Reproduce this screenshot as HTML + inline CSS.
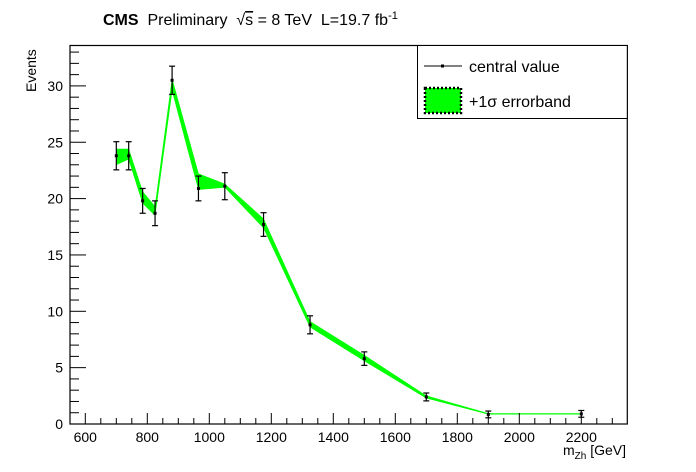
<!DOCTYPE html>
<html><head><meta charset="utf-8"><style>
html,body{margin:0;padding:0;background:#fff;}
svg{display:block;font-family:"Liberation Sans",Arial,sans-serif;}
</style></head><body>
<svg id="chart" width="696" height="472" viewBox="0 0 696 472">
<rect x="0" y="0" width="696" height="472" fill="#fff"/>
<g id="band"></g>
<g id="marks"></g>
<rect x="70" y="45.5" width="557.3" height="378.5" fill="none" stroke="#000" stroke-width="1.2"/>
<g id="axes"></g>
<text x="103" y="25" font-size="16"><tspan font-weight="bold">CMS</tspan>&#160; Preliminary &#160;√<tspan text-decoration="overline">s</tspan> = 8 TeV &#160;L=19.7 fb<tspan font-size="11" dy="-6">-1</tspan></text>
<text x="36" y="92" font-size="14" transform="rotate(-90 36 92)">Events</text>
<text x="626" y="455" font-size="14" text-anchor="end">m<tspan font-size="10" dy="4">Zh</tspan><tspan dy="-4"> [GeV]</tspan></text>
<g>
<rect x="417.5" y="45.5" width="209.8" height="73" fill="#fff" stroke="#000" stroke-width="1"/>
<g>
<line x1="424" y1="66" x2="462" y2="66" stroke="#000" stroke-width="1"/>
<rect x="441" y="64.5" width="3" height="3" fill="#000"/>
<text x="469" y="72" font-size="16">central value</text></g>
<g>
<rect x="425" y="88" width="36" height="25" fill="#00ff00" stroke="#000" stroke-width="2.5" stroke-dasharray="2,2"/>
<text x="469" y="107" font-size="16">+1σ errorband</text></g>
</g>
</svg>
<script>
const masses=[700,740,785,825,880,965,1050,1175,1325,1500,1700,1900,2200];
const central=[23.8,23.8,19.8,18.7,30.5,20.9,21.1,17.7,8.8,5.8,2.4,0.85,0.9];
const errors=[1.25,1.25,1.1,1.1,1.25,1.1,1.2,1.05,0.8,0.6,0.35,0.3,0.3];
const bandLow=[23.0,23.5,19.6,18.5,29.6,20.8,21.0,17.4,8.6,5.6,2.3,0.87,0.87];
const bandHigh=[24.4,24.4,20.6,19.3,30.6,22.2,21.3,18.2,9.1,6.1,2.5,0.93,0.93];
const xTicks=[600,800,1000,1200,1400,1600,1800,2000,2200];
const yTicks=[0,5,10,15,20,25,30];
const NS='http://www.w3.org/2000/svg';
function X(v){return 85.3+(v-600)*0.31;}
function Y(v){return 424-v*11.27;}
function mk(t,a,p){const e=document.createElementNS(NS,t);for(const k in a)e.setAttribute(k,a[k]);p.appendChild(e);return e;}
const band=document.getElementById('band'),marks=document.getElementById('marks'),axes=document.getElementById('axes');
let pts=masses.map((m,i)=>X(m)+','+Y(bandHigh[i]));
pts=pts.concat(masses.map((m,i)=>X(m)+','+Y(bandLow[i])).reverse());
const poly=mk('polygon',{points:pts.join(' '),fill:'#00ff00',stroke:'#00ff00','stroke-width':0.6},band);


masses.forEach((m,i)=>{
 const g=mk('g',{},marks);
 
 
 const x=X(m),y1=Y(central[i]+errors[i]),y2=Y(central[i]-errors[i]);
 mk('line',{x1:x,y1:y1,x2:x,y2:y2,stroke:'#000','stroke-width':1.2},g);
 mk('line',{x1:x-3,y1:y1,x2:x+3,y2:y1,stroke:'#000','stroke-width':1.2},g);
 mk('line',{x1:x-3,y1:y2,x2:x+3,y2:y2,stroke:'#000','stroke-width':1.2},g);
 mk('rect',{x:x-1.5,y:Y(central[i])-1.5,width:3,height:3,fill:'#000'},g);
});
for(let v=600;v<=2300;v+=50){
 const major=v%200===0;const x=X(v);
 mk('line',{x1:x,y1:424,x2:x,y2:424-(major?11:6),stroke:'#000','stroke-width':1},axes);
}
xTicks.forEach(v=>{const t=mk('text',{x:X(v),y:442,'font-size':14,'text-anchor':'middle'},axes);t.textContent=v;
 
 });
for(let v=0;v<=33;v++){
 const major=v%5===0;const y=Y(v);
 mk('line',{x1:70,y1:y,x2:70+(major?16:9),y2:y,stroke:'#000','stroke-width':1},axes);
}
yTicks.forEach(v=>{const t=mk('text',{x:63,y:Y(v)+5,'font-size':14,'text-anchor':'end'},axes);t.textContent=v;
 
 });
</script>
</body></html>
